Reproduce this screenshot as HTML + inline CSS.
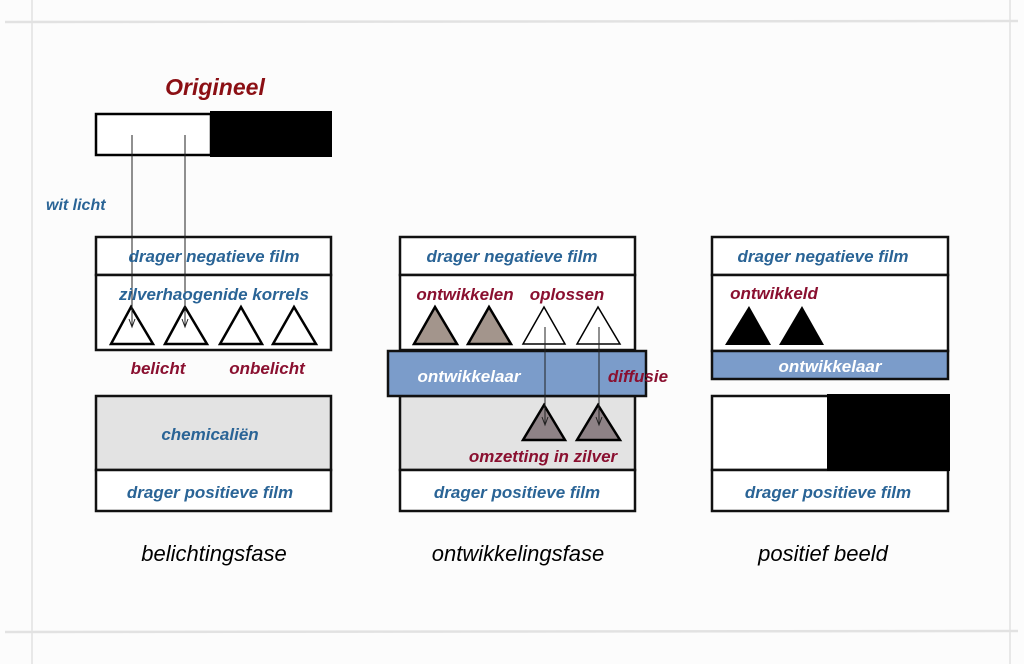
<!DOCTYPE html>
<html><head><meta charset="utf-8"><style>
html,body{margin:0;padding:0;background:#fcfcfc;}
svg{display:block}
text{font-family:"Liberation Sans",sans-serif;font-style:italic;}
.b{fill:#2a6496;font-size:17px;font-weight:bold;}
.r{fill:#8a1030;font-size:17px;font-weight:bold;}
.w{fill:#fff;font-size:17px;font-weight:bold;}
.k{fill:#000;font-size:22px;}
</style></head><body>
<svg width="1024" height="664" viewBox="0 0 1024 664" xmlns="http://www.w3.org/2000/svg">
<!-- frame -->
<g stroke="#e2e2e2" stroke-width="2.5" fill="none">
<line x1="5" y1="22" x2="1018" y2="21"/><line x1="5" y1="632" x2="1018" y2="631"/>
<line x1="32" y1="0" x2="32" y2="664" stroke-width="1.5"/><line x1="1010" y1="0" x2="1010" y2="664" stroke-width="1.5"/>
</g>
<!-- origineel -->
<text x="215" y="95" text-anchor="middle" fill="#8b0f14" style="font-size:23px;font-weight:bold">Origineel</text>
<rect x="96" y="114" width="115" height="41" fill="#fff" stroke="#000" stroke-width="2.5"/>
<rect x="210" y="111" width="122" height="46" fill="#000"/>
<text x="46" y="210" class="b" style="font-size:16px">wit licht</text>

<!-- panel 1 -->
<g stroke="#111" stroke-width="2.5">
<rect x="96" y="237" width="235" height="38" fill="#fff"/>
<rect x="96" y="275" width="235" height="75" fill="#fff"/>
<rect x="96" y="396" width="235" height="74" fill="#e3e3e3"/>
<rect x="96" y="470" width="235" height="41" fill="#fff"/>
</g>
<g fill="#fff" stroke="#000" stroke-width="2.5">
<path d="M131,307 L111,344 L153,344 Z"/><path d="M185,307 L165,344 L207,344 Z"/>
<path d="M241,307 L220,344 L262,344 Z"/><path d="M294,307 L273,344 L316,344 Z"/>
</g>
<g stroke="#222" stroke-width="1" fill="none">
<line x1="132" y1="135" x2="132" y2="327"/><path d="M129,319 L132,327 L135,319"/>
<line x1="185" y1="135" x2="185" y2="327"/><path d="M182,319 L185,327 L188,319"/>
</g>
<text x="214" y="262" class="b" text-anchor="middle">drager negatieve film</text>
<text x="214" y="300" class="b" text-anchor="middle">zilverhaogenide korrels</text>
<text x="158" y="374" class="r" text-anchor="middle">belicht</text>
<text x="267" y="374" class="r" text-anchor="middle">onbelicht</text>
<text x="210" y="440" class="b" text-anchor="middle">chemicaliën</text>
<text x="210" y="498" class="b" text-anchor="middle">drager positieve film</text>

<!-- panel 2 -->
<g stroke="#111" stroke-width="2.5">
<rect x="400" y="237" width="235" height="38" fill="#fff"/>
<rect x="400" y="275" width="235" height="75" fill="#fff"/>
<rect x="400" y="396" width="235" height="74" fill="#e3e3e3"/>
<rect x="400" y="470" width="235" height="41" fill="#fff"/>
<rect x="388" y="351" width="258" height="45" fill="#7b9cca"/>
</g>
<g stroke="#000" stroke-width="2.5">
<path d="M435,307 L414,344 L457,344 Z" fill="#a3958c"/><path d="M489,307 L468,344 L511,344 Z" fill="#a3958c"/>
<path d="M544,307 L523,344 L565,344 Z" fill="#fff" stroke-width="1.5"/><path d="M598,307 L577,344 L620,344 Z" fill="#fff" stroke-width="1.5"/>
<path d="M544,405 L523,440 L565,440 Z" fill="#8e8286"/><path d="M598,405 L577,440 L620,440 Z" fill="#8e8286"/>
</g>
<g stroke="#222" stroke-width="1" fill="none">
<line x1="545" y1="327" x2="545" y2="425"/><path d="M542,417 L545,425 L548,417"/>
<line x1="599" y1="327" x2="599" y2="425"/><path d="M596,417 L599,425 L602,417"/>
</g>
<text x="512" y="262" class="b" text-anchor="middle">drager negatieve film</text>
<text x="465" y="300" class="r" text-anchor="middle">ontwikkelen</text>
<text x="567" y="300" class="r" text-anchor="middle">oplossen</text>
<text x="469" y="382" class="w" text-anchor="middle">ontwikkelaar</text>
<text x="638" y="382" class="r" text-anchor="middle">diffusie</text>
<text x="543" y="462" class="r" text-anchor="middle">omzetting in zilver</text>
<text x="517" y="498" class="b" text-anchor="middle">drager positieve film</text>

<!-- panel 3 -->
<g stroke="#111" stroke-width="2.5">
<rect x="712" y="237" width="236" height="38" fill="#fff"/>
<rect x="712" y="275" width="236" height="76" fill="#fff"/>
<rect x="712" y="351" width="236" height="28" fill="#7b9cca"/>
<rect x="712" y="396" width="236" height="74" fill="#fff"/>
<rect x="712" y="470" width="236" height="41" fill="#fff"/>
</g>
<rect x="827" y="394" width="123" height="77" fill="#000"/>
<path d="M749,306 L725,345 L771,345 Z" fill="#000"/><path d="M802,306 L779,345 L824,345 Z" fill="#000"/>
<text x="823" y="262" class="b" text-anchor="middle">drager negatieve film</text>
<text x="774" y="299" class="r" text-anchor="middle">ontwikkeld</text>
<text x="830" y="372" class="w" text-anchor="middle">ontwikkelaar</text>
<text x="828" y="498" class="b" text-anchor="middle">drager positieve film</text>

<text x="214" y="561" class="k" text-anchor="middle">belichtingsfase</text>
<text x="518" y="561" class="k" text-anchor="middle">ontwikkelingsfase</text>
<text x="823" y="561" class="k" text-anchor="middle">positief beeld</text>
</svg>
</body></html>
